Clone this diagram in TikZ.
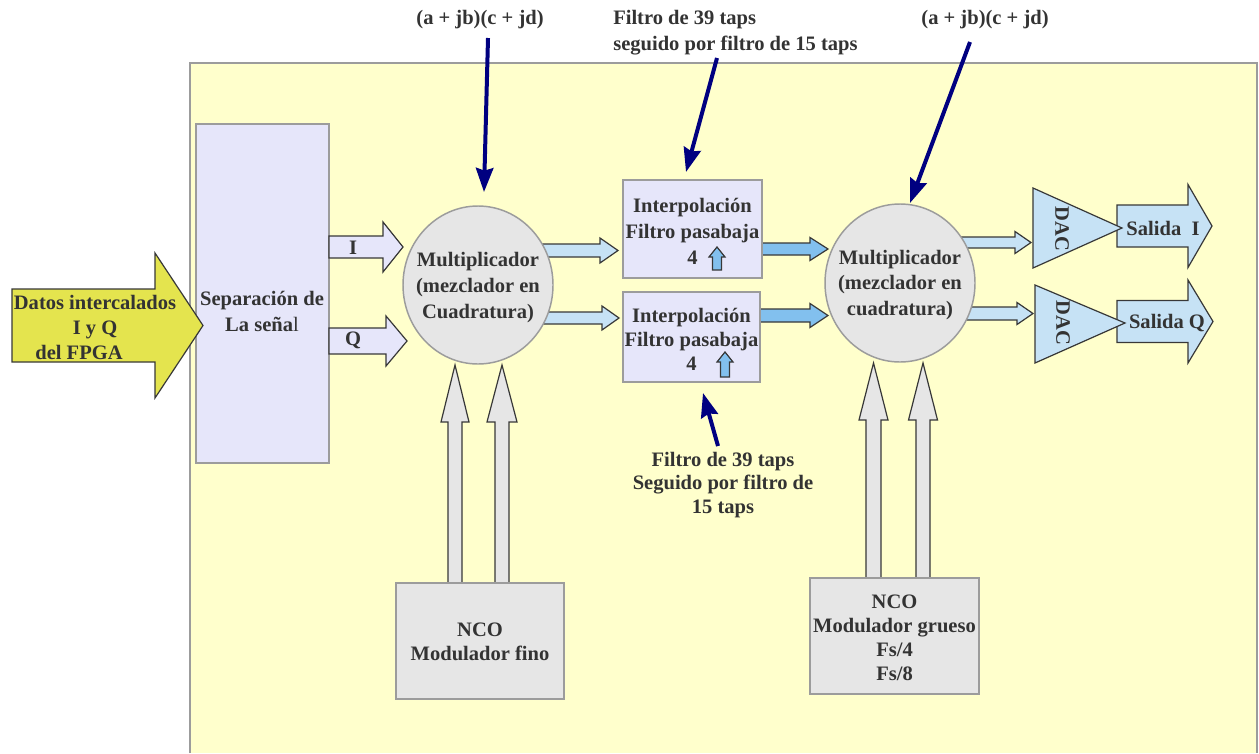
\documentclass[tikz,border=0pt]{standalone}
\usepackage{fontspec}
\setmainfont{Liberation Serif}
\usetikzlibrary{arrows.meta,shapes.geometric}

\definecolor{bgyellow}{HTML}{FFFFCC}
\definecolor{lav}{HTML}{E6E6FA}
\definecolor{lgray}{HTML}{E6E6E6}
\definecolor{bord}{HTML}{9C9C9C}
\definecolor{txt}{HTML}{333333}
\definecolor{lblue}{HTML}{C6E2F5}
\definecolor{mblue}{HTML}{82C0EE}
\definecolor{olive}{HTML}{E4E44E}
\definecolor{navyc}{HTML}{000080}
\definecolor{edge}{HTML}{383838}

% block arrow pointing right: style, tail x, tip x, centre y, shaft half, head half, head base x
\newcommand\rblk[7]{\draw[#1] (#2,#4-#5) -- (#7,#4-#5) -- (#7,#4-#6) -- (#3,#4)
  -- (#7,#4+#6) -- (#7,#4+#5) -- (#2,#4+#5) -- cycle;}
% block arrow pointing up: style, centre x, tail y, tip y, shaft half, head half, head base y
\newcommand\ublk[7]{\draw[#1] (#2-#5,#3) -- (#2-#5,#7) -- (#2-#6,#7) -- (#2,#4)
  -- (#2+#6,#7) -- (#2+#5,#7) -- (#2+#5,#3) -- cycle;}

\begin{document}
\begin{tikzpicture}[x=0.75pt,y=-0.75pt,
  lbl/.style={text=txt,font=\fontsize{15.4}{19}\selectfont\bfseries,inner sep=0pt,align=center},
  boxs/.style={draw=bord,line width=1.1pt,inner sep=0pt},
  blk/.style={draw=edge,line width=0.9pt,line join=miter},
  mult/.style={boxs,ellipse,fill=lgray,minimum width=150*0.75pt,minimum height=158*0.75pt},
  navyarrow/.style={draw=navyc,line width=3pt,-{Stealth[length=18pt,width=13pt,inset=2pt]}}
]
\useasboundingbox (0,0) rectangle (1259,753);
\fill[white] (0,0) rectangle (1259,753);

% panel
\fill[bgyellow] (190,63) rectangle (1257,753);
\draw[bord,line width=1.5pt] (190,753) -- (190,63) -- (1257,63) -- (1257,753);

% signal separation block
\node[boxs,fill=lav,minimum width=133*0.75pt,minimum height=339*0.75pt] (sep) at (262.5,293.5) {};

% I / Q outputs
\rblk{blk,fill=lav}{329}{403}{247}{11}{25}{383}
\rblk{blk,fill=lav}{329}{407}{341}{13}{25}{386}

% input arrow
\rblk{blk,fill=olive}{12}{203}{325.5}{36.5}{72.5}{155}

% mixer to interpolators
\rblk{blk,fill=lblue}{540}{618}{250.5}{6.5}{12.5}{600}
\rblk{blk,fill=lblue}{540}{619}{318}{6}{12}{602}
% interpolators to second mixer
\rblk{blk,fill=mblue}{762}{828}{249}{6}{11.5}{810}
\rblk{blk,fill=mblue}{760}{828}{315.5}{6.5}{12}{810}
% second mixer to DACs
\rblk{blk,fill=lblue}{960}{1031}{242.5}{5.5}{11}{1015}
\rblk{blk,fill=lblue}{960}{1033}{313.5}{6.5}{11}{1017}
% outputs
\rblk{blk,fill=lblue}{1117}{1212}{226}{21}{41.5}{1188}
\rblk{blk,fill=lblue}{1117}{1213}{321.5}{21}{41.5}{1188}

% DAC triangles
\draw[blk,fill=lblue] (1033,188) -- (1122,228) -- (1033,268) -- cycle;
\draw[blk,fill=lblue] (1035,285) -- (1125,323) -- (1035,363) -- cycle;

% interpolation blocks
\node[boxs,fill=lav,minimum width=139*0.75pt,minimum height=98*0.75pt] (int1) at (692.5,229) {};
\node[boxs,fill=lav,minimum width=137*0.75pt,minimum height=90*0.75pt] (int2) at (691.5,337) {};
\ublk{blk,fill=mblue}{717}{270}{247}{4.5}{8}{257}
\ublk{blk,fill=mblue}{725}{377}{352}{4.5}{8}{362}

% NCO feeds
\ublk{blk,fill=lgray}{455}{583}{365}{7}{14}{422}
\ublk{blk,fill=lgray}{502}{583}{365}{7}{15}{422}
\ublk{blk,fill=lgray}{873.5}{578}{363}{7.5}{14.5}{420}
\ublk{blk,fill=lgray}{923}{578}{363}{7}{14.5}{420}
\node[boxs,fill=lgray,minimum width=168*0.75pt,minimum height=116*0.75pt] (nco1) at (480,641) {};
\node[boxs,fill=lgray,minimum width=169*0.75pt,minimum height=116*0.75pt] (nco2) at (894.5,636) {};

% mixers
\node[mult] (m1) at (478,285) {};
\node[mult] (m2) at (900,283) {};

% texts
\node[lbl,font=\fontsize{15.4}{18.4}\selectfont\bfseries] (datos) at (95,327.5)
  {Datos intercalados\\I y Q\hspace*{25.5pt}\\del FPGA\hspace*{24pt}};
\node[lbl] (sept) at (262,311.5) {Separación de\\La seña{\mdseries l}};
\node[lbl] (it) at (353,248) {I};
\node[lbl] (qt) at (353,340) {Q};
\node[lbl,font=\fontsize{15.4}{19.2}\selectfont\bfseries] (m1t) at (478,287.5) {Multiplicador\\(mezclador en\\Cuadratura)};
\node[lbl,font=\fontsize{15.4}{19}\selectfont\bfseries] (m2t) at (900,285) {Multiplicador\\(mezclador en\\cuadratura)};
\node[lbl,font=\fontsize{15.4}{19.5}\selectfont\bfseries] (int1t) at (692.5,231) {Interpolación\\Filtro pasabaja\\4};
\node[lbl,font=\fontsize{15.4}{18}\selectfont\bfseries] (int2t) at (691.5,339) {Interpolación\\Filtro pasabaja\\4};
\node[lbl,rotate=-90] (dac1) at (1062,229) {DAC};
\node[lbl,rotate=-90] (dac2) at (1063,323) {DAC};
\node[lbl] (out1) at (1163,228) {Salida\ \ I};
\node[lbl] (out2) at (1167,323) {Salida Q};
\node[lbl,font=\fontsize{15.4}{18}\selectfont\bfseries] (nco1t) at (480,642) {NCO\\Modulador fino};
\node[lbl,font=\fontsize{15.4}{18}\selectfont\bfseries] (nco2t) at (894.5,637.5) {NCO\\Modulador grueso\\Fs/4\\Fs/8};

% annotations
\node[lbl] (prod1) at (480,20) {(a + jb)(c + jd)};
\node[lbl] (prod2) at (985,20) {(a + jb)(c + jd)};
\node[lbl,align=left,anchor=west,font=\fontsize{15.4}{19.5}\selectfont\bfseries] (filt1) at (613,33)
  {Filtro de 39 taps\\seguido por filtro de 15 taps};
\node[lbl,font=\fontsize{15.4}{17.6}\selectfont\bfseries] (filt2) at (723,485)
  {Filtro de 39 taps\\Seguido por filtro de\\15 taps};

\coordinate (a1s) at (488,38);  \coordinate (a1e) at (484,192);
\coordinate (a2s) at (717,58);  \coordinate (a2e) at (686,172);
\coordinate (a3s) at (970,42);  \coordinate (a3e) at (910,203);
\coordinate (a4s) at (718,446); \coordinate (a4e) at (703,393);
\draw[navyarrow] (a1s) -- (a1e);
\draw[navyarrow] (a2s) -- (a2e);
\draw[navyarrow] (a3s) -- (a3e);
\draw[navyarrow] (a4s) -- (a4e);
\end{tikzpicture}
\end{document}
